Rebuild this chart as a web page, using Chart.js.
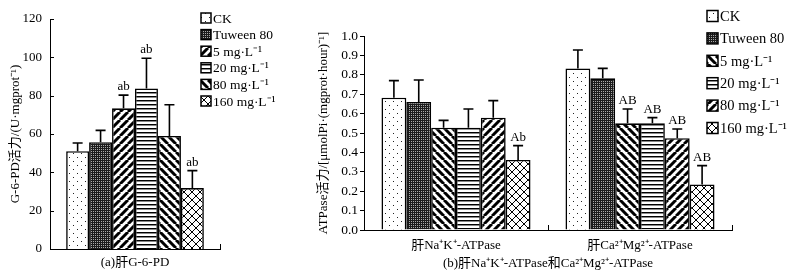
<!DOCTYPE html>
<html>
<head>
<meta charset="utf-8">
<script src="https://cdn.jsdelivr.net/npm/chart.js@4"></script>
<style>
  html, body { margin: 0; padding: 0; background: #fff; }
  #wrap { position: relative; width: 794px; height: 273px; overflow: hidden; }
  canvas { position: absolute; top: 0; }
  #c1 { left: 0; }
  #c2 { left: 300px; }
</style>
</head>
<body>
<div id="wrap">
  <canvas id="c1" width="300" height="273"></canvas>
  <canvas id="c2" width="494" height="273"></canvas>
</div>
<script>
// treatments (legend order)
const treatments = ['CK', 'Tuween 80', '5 mg·L⁻¹', '20 mg·L⁻¹', '80 mg·L⁻¹', '160 mg·L⁻¹'];

// (a) liver G-6-PD
const g6pdLabel = ['(a)肝G-6-PD'];
const g6pdMean = [51, 55.7, 73.4, 83.8, 59, 31.8];
const g6pdSd = [4.3, 6.2, 6.9, 15.7, 16.3, 9.1];
const g6pdSig = ['', '', 'ab', 'ab', '', 'ab'];

// (b) liver ATPase
const atpaseGroups = ['肝Na⁺K⁺-ATPase', '肝Ca²⁺Mg²⁺-ATPase'];
const naKMean = [0.682, 0.66, 0.527, 0.527, 0.579, 0.361];
const naKSd = [0.088, 0.113, 0.038, 0.097, 0.088, 0.074];
const naKSig = ['', '', '', '', '', 'Ab'];
const caMgMean = [0.833, 0.782, 0.55, 0.55, 0.473, 0.235];
const caMgSd = [0.095, 0.051, 0.074, 0.029, 0.048, 0.097];
const caMgSig = ['', '', 'AB', 'AB', 'AB', 'AB'];

const g6pdTicks = [0, 20, 40, 60, 80, 100, 120];

Chart.defaults.font.family = '"Liberation Serif", "Noto Sans CJK SC", serif';
Chart.defaults.color = '#000';

function makePattern(kind) {
  const c = document.createElement('canvas');
  let s = 8;
  if (kind === 'dense') s = 2;
  if (kind === 'horiz') s = 4;
  c.width = s; c.height = s;
  const g = c.getContext('2d');
  g.fillStyle = '#fff';
  g.fillRect(0, 0, s, s);
  g.strokeStyle = '#000';
  if (kind === 'dots') {
    g.fillStyle = '#222';
    g.fillRect(1, 1, 1, 1);
    g.fillRect(5, 5, 1, 1);
  } else if (kind === 'dense') {
    g.fillStyle = '#1c1c1c';
    g.fillRect(0, 0, 2, 2);
    g.fillStyle = '#aaa';
    g.fillRect(1, 1, 1, 1);
  } else if (kind === 'horiz') {
    g.fillStyle = '#000';
    g.fillRect(0, 0, s, 1);
    g.fillStyle = '#888';
    g.fillRect(0, 1, s, 1);
  } else if (kind === 'fwd' || kind === 'back' || kind === 'cross') {
    g.lineWidth = kind === 'cross' ? 1 : 3;
    g.beginPath();
    for (let k = -1; k <= 1; k++) {
      if (kind !== 'back') { g.moveTo(k * s, s); g.lineTo(k * s + s, 0); }
      if (kind !== 'fwd') { g.moveTo(k * s, 0); g.lineTo(k * s + s, s); }
    }
    g.stroke();
  }
  return g.createPattern(c, 'repeat');
}

function extrasPlugin(sds, sigs, legend, inwardY) {
  return {
    id: 'extras',
    afterDatasetsDraw(chart) {
      const ctx = chart.ctx;
      const y = chart.scales.y;
      const x = chart.scales.x;
      const area = chart.chartArea;
      ctx.save();
      ctx.strokeStyle = '#000';
      ctx.fillStyle = '#000';
      ctx.lineWidth = 1.6;
      ctx.font = '13px "Liberation Serif", serif';
      ctx.textAlign = 'center';
      ctx.textBaseline = 'bottom';
      chart.data.datasets.forEach((ds, i) => {
        chart.getDatasetMeta(i).data.forEach((bar, j) => {
          const top = y.getPixelForValue(ds.data[j] + sds[i][j]);
          ctx.beginPath();
          ctx.moveTo(bar.x, bar.y);
          ctx.lineTo(bar.x, top);
          ctx.moveTo(bar.x - 5, top);
          ctx.lineTo(bar.x + 5, top);
          ctx.stroke();
          if (sigs[i][j]) ctx.fillText(sigs[i][j], bar.x, top - 2);
        });
      });
      // inward ticks
      ctx.lineWidth = 1;
      ctx.beginPath();
      if (inwardY) {
        y.ticks.forEach(t => {
          const py = Math.round(y.getPixelForValue(t.value)) + 0.5;
          ctx.moveTo(area.left, py);
          ctx.lineTo(area.left + 4, py);
        });
      }
      for (let i = 0; i <= chart.data.labels.length; i++) {
        const px = Math.round(x.getPixelForValue(i - 0.5)) + 0.5;
        ctx.moveTo(px, area.bottom);
        ctx.lineTo(px, area.bottom - 5);
      }
      ctx.stroke();
      // legend
      ctx.textAlign = 'left';
      ctx.textBaseline = 'middle';
      ctx.font = legend.font + 'px "Liberation Serif", serif';
      chart.data.datasets.forEach((ds, i) => {
        const cy = legend.y + i * legend.step;
        ctx.fillStyle = ds.backgroundColor;
        ctx.fillRect(legend.x, cy - legend.box / 2, legend.box, legend.box);
        ctx.lineWidth = 1.5;
        ctx.strokeRect(legend.x, cy - legend.box / 2, legend.box, legend.box);
        ctx.fillStyle = '#000';
        ctx.fillText(ds.label, legend.x + legend.box + 2, cy + 1);
      });
      ctx.restore();
    }
  };
}

// ---- (a) ----
const fillsA = ['dots', 'dense', 'fwd', 'horiz', 'back', 'cross'];
new Chart(document.getElementById('c1'), {
  type: 'bar',
  data: {
    labels: g6pdLabel,
    datasets: treatments.map((t, i) => ({
      label: t,
      data: [g6pdMean[i]],
      backgroundColor: makePattern(fillsA[i]),
      borderColor: '#000',
      borderWidth: 1.6,
      categoryPercentage: 0.81,
      barPercentage: 1
    }))
  },
  options: {
    responsive: false,
    animation: false,
    layout: { padding: { left: 0, right: 80, top: 19, bottom: 0 } },
    plugins: { legend: { display: false }, tooltip: { enabled: false } },
    scales: {
      x: {
        afterFit: s => { s.height = 24; },
        grid: { display: false, drawTicks: false },
        border: { color: '#000', width: 1 },
        ticks: { font: { size: 13 }, padding: 6 }
      },
      y: {
        min: 0, max: 120,
        afterFit: s => { s.width = 50; },
        afterBuildTicks: s => { s.ticks = g6pdTicks.map(v => ({ value: v })); },
        grid: { display: false, drawTicks: false },
        border: { color: '#000', width: 1 },
        ticks: { font: { size: 13 }, padding: 8 },
        title: { display: true, text: 'G-6-PD活力/(U·mgprot⁻¹)', font: { size: 13 }, padding: { top: 8, bottom: 0 } }
      }
    }
  },
  plugins: [extrasPlugin(g6pdSd.map(v => [v]), g6pdSig.map(v => [v]),
    { x: 201, y: 18, step: 16.6, box: 10, font: 13.5 }, true)]
});

// ---- (b) ----
const fillsB = ['dots', 'dense', 'back', 'horiz', 'fwd', 'cross'];
new Chart(document.getElementById('c2'), {
  type: 'bar',
  data: {
    labels: atpaseGroups,
    datasets: treatments.map((t, i) => ({
      label: t,
      data: [naKMean[i], caMgMean[i]],
      backgroundColor: makePattern(fillsB[i]),
      borderColor: '#000',
      borderWidth: 1.6,
      categoryPercentage: 0.81,
      barPercentage: 1
    }))
  },
  options: {
    responsive: false,
    animation: false,
    layout: { padding: { left: 12, right: 62, top: 36, bottom: 0 } },
    plugins: { legend: { display: false }, tooltip: { enabled: false } },
    scales: {
      x: {
        afterFit: s => { s.height = 43; },
        grid: { display: false, drawTicks: false },
        border: { color: '#000', width: 1 },
        ticks: { font: { size: 13 }, padding: 8 },
        title: { display: true, text: '(b)肝Na⁺K⁺-ATPase和Ca²⁺Mg²⁺-ATPase', font: { size: 13 }, padding: { top: 0, bottom: 2 } }
      },
      y: {
        min: 0, max: 1,
        afterFit: s => { s.width = 52; },
        grid: { drawOnChartArea: false, drawTicks: true, tickLength: 4, color: '#000' },
        border: { color: '#000', width: 1 },
        ticks: { font: { size: 13.5 }, padding: 2, stepSize: 0.1, callback: v => v.toFixed(1) },
        title: { display: true, text: 'ATPase活力/[μmolPi·(mgprot·hour)⁻¹]', font: { size: 13 }, padding: { top: 4, bottom: 0 } }
      }
    }
  },
  plugins: [extrasPlugin(naKSd.map((v, i) => [v, caMgSd[i]]), naKSig.map((v, i) => [v, caMgSig[i]]),
    { x: 407, y: 16, step: 22.4, box: 11, font: 14.5 }, false)]
});
</script>
</body>
</html>
